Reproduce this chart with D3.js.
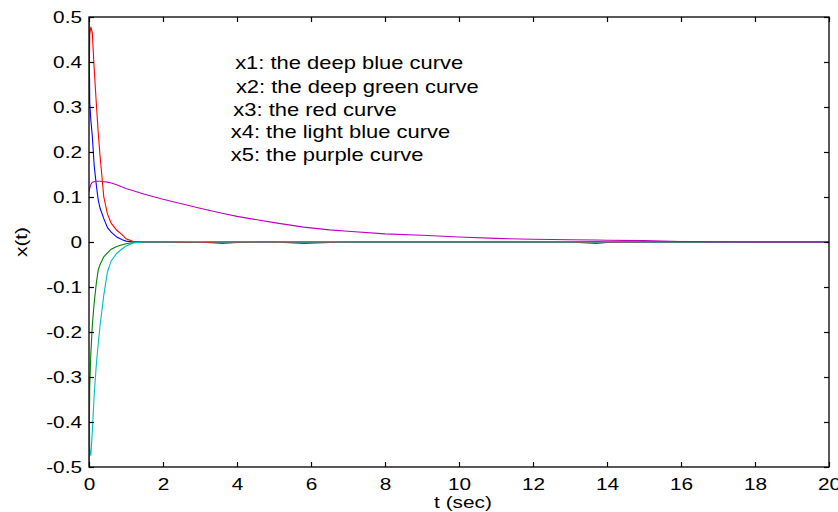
<!DOCTYPE html>
<html lang="en">
    <head>
        <meta charset="utf-8">
        <title>x(t)</title>
        <script type="text/javascript" src="https://d3js.org/d3.v7.min.js"></script>

        <style type="text/css">
            body {
                margin: 0;
                background-color: #ffffff;
            }

            /* every text in the figure */
            text {
                font-family: "Liberation Sans", Arial, Helvetica, sans-serif;
                fill: #000000;
            }

            .tick line {
                stroke: #000000;
                stroke-width: 1.2;
            }

            .domain {
                display: none;
            }
        </style>
    </head>

    <body>
        <svg width="838" height="512" id="svg1"></svg>

        <script type="text/javascript">

            // time samples (sec) shared by all five states
            const tSec = [0, 0.02, 0.05, 0.09, 0.14, 0.2, 0.25, 0.3, 0.4, 0.5,
                          0.6, 0.75, 0.9, 1.0, 1.2, 1.5, 2, 3, 3.6, 4,
                          5, 5.8, 6.5, 7, 8, 9, 10, 11, 12, 13,
                          13.7, 14, 15, 16, 17, 18, 19, 20];

            // x1: deep blue
            const x1 = [0.5, 0.31, 0.27, 0.235, 0.17, 0.125, 0.093, 0.075, 0.052, 0.032,
                        0.022, 0.011, 0.005, 0.002, 0, 0, 0, 0, 0, 0,
                        0, 0, 0, 0, 0, 0, 0, 0, 0, 0,
                        0.001, 0, 0, 0, 0, 0, 0, 0];
            // x2: deep green
            const x2 = [-0.5, -0.32, -0.247, -0.185, -0.135, -0.09, -0.062, -0.05, -0.033, -0.024,
                        -0.016, -0.01, -0.006, -0.004, -0.001, 0, 0, 0, 0, 0,
                        0, 0, 0, 0, 0, 0, 0, 0, 0, 0,
                        0, 0, 0, 0, 0, 0, 0, 0];
            // x3: red
            const x3 = [0.32, 0.46, 0.478, 0.464, 0.385, 0.305, 0.242, 0.19, 0.1, 0.062,
                        0.042, 0.026, 0.016, 0.007, 0.001, 0, 0, 0, -0.003, -0.001,
                        0, -0.003, -0.001, 0, 0, 0, 0, 0, 0, 0,
                        -0.003, -0.001, 0, 0, 0, 0, 0, 0];
            // x4: light blue
            const x4 = [-0.3, -0.46, -0.475, -0.42, -0.34, -0.27, -0.225, -0.185, -0.118, -0.066,
                        -0.042, -0.025, -0.015, -0.009, -0.002, 0, 0, 0.001, 0, 0,
                        0, 0, 0, 0, 0, 0, 0, 0, 0, 0,
                        0, 0, 0, 0, 0, 0, 0, 0];
            // x5: purple
            const x5 = [0.112, 0.12, 0.128, 0.133, 0.134, 0.135, 0.135, 0.135, 0.134, 0.133,
                        0.131, 0.127, 0.122, 0.119, 0.114, 0.106, 0.095, 0.075, 0.064, 0.057,
                        0.043, 0.033, 0.027, 0.024, 0.018, 0.015, 0.011, 0.008, 0.006, 0.005,
                        0.0045, 0.004, 0.003, 0.001, 0.0005, 0, 0, 0];

            const seriesNames = ["x1", "x2", "x3", "x4", "x5"];
            const seriesColors = ["#0000ff", "#008000", "#ff0000", "#00bfbf", "#bf00bf"];

            // tick labels
            const xTicks = [0, 2, 4, 6, 8, 10, 12, 14, 16, 18, 20];
            const yTicks = [-0.5, -0.4, -0.3, -0.2, -0.1, 0, 0.1, 0.2, 0.3, 0.4, 0.5];

            // text notes, placed in data coordinates
            const noteText = ["x1: the deep blue curve",
                              "x2: the deep green curve",
                              "x3: the red curve",
                              "x4: the light blue curve",
                              "x5: the purple curve"];
            const noteT = [3.95, 3.97, 3.9, 3.83, 3.83];
            const noteV = [0.396, 0.341, 0.29, 0.241, 0.19];


            const svg = d3.select("#svg1");
            const boxL = 89, boxR = 829, boxT = 17, boxB = 467;
            const stretch = 1.3;   // text in the picture is wide

            const xScale = d3.scaleLinear()
                            .domain([0, 20])
                            .range([boxL, boxR]);

            const yScale = d3.scaleLinear()
                            .domain([-0.5, 0.5])
                            .range([boxB, boxT]);

            // clip curves to the axes box
            svg.append("clipPath")
                .attr("id", "box")
                .append("rect")
                .attr("x", boxL)
                .attr("y", boxT)
                .attr("width", boxR - boxL)
                .attr("height", boxB - boxT);

            const line = d3.line()
                        .x(d => xScale(d[0]))
                        .y(d => yScale(d[1]));

            const allSeries = [x1, x2, x3, x4, x5].map(vals => vals.map((v, i) => [tSec[i], v]));

            svg.append("g")
                .attr("clip-path", "url(#box)")
                .selectAll("path")
                .data(allSeries)
                .enter()
                .append("path")
                .attr("d", line)
                .attr("fill", "none")
                .attr("stroke", (d, i) => seriesColors[i])
                .attr("stroke-width", 1.1);

            // axes: ticks point inward, matlab style
            const fmt = d => d === 0 ? "0" : d3.format(".1f")(d).replace("−", "-");

            const gLeft = svg.append("g")
                .attr("transform", `translate(${boxL},0)`)
                .call(d3.axisLeft(yScale).tickValues(yTicks).tickSizeInner(-5).tickSizeOuter(0)
                        .tickPadding(7).tickFormat(fmt));

            gLeft.selectAll("text")
                .attr("font-size", 16)
                .attr("x", -7 / stretch)
                .attr("transform", `scale(${stretch},1)`);

            const gBottom = svg.append("g")
                .attr("transform", `translate(0,${boxB})`)
                .call(d3.axisBottom(xScale).tickValues(xTicks).tickSizeInner(-5).tickSizeOuter(0)
                        .tickPadding(12).tickFormat(d => d));

            gBottom.selectAll(".tick text")
                .attr("font-size", 16)
                .attr("transform", `scale(${stretch},1)`);

            svg.append("g")
                .attr("transform", `translate(0,${boxT})`)
                .call(d3.axisTop(xScale).tickValues(xTicks).tickSizeInner(-5).tickSizeOuter(0).tickFormat(""));

            svg.append("g")
                .attr("transform", `translate(${boxR},0)`)
                .call(d3.axisRight(yScale).tickValues(yTicks).tickSizeInner(-5).tickSizeOuter(0).tickFormat(""));

            // box round the axes
            svg.append("rect")
                .attr("x", boxL)
                .attr("y", boxT)
                .attr("width", boxR - boxL)
                .attr("height", boxB - boxT)
                .attr("fill", "none")
                .attr("stroke", "#000000")
                .attr("stroke-width", 1.3);

            // axis titles
            svg.append("text")
                .attr("text-anchor", "middle")
                .attr("font-size", 16)
                .attr("transform", `translate(${(boxL + boxR) / 2 + 4},508) scale(${stretch},1)`)
                .text("t (sec)");

            svg.append("text")
                .attr("text-anchor", "middle")
                .attr("font-size", 16)
                .attr("transform", `translate(27,${yScale(0)}) rotate(-90) scale(${stretch},1)`)
                .text("x(t)");

            // the notes naming each curve
            svg.selectAll(".note")
                .data(noteText)
                .enter()
                .append("text")
                .attr("class", "note")
                .attr("font-size", 18)
                .attr("dominant-baseline", "middle")
                .attr("transform", (d, i) => `translate(${xScale(noteT[i])},${yScale(noteV[i])}) scale(1.22,1)`)
                .text(d => d);

        </script>
    </body>
</html>
